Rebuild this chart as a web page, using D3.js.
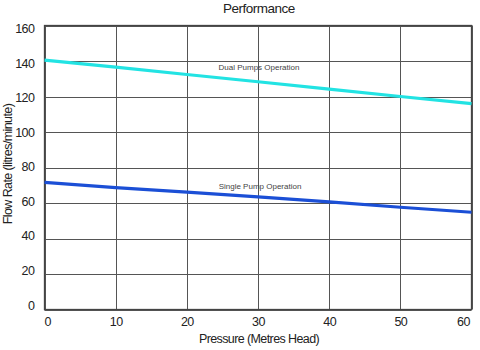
<!DOCTYPE html>
<html>
<head>
<meta charset="utf-8">
<script src="https://cdn.jsdelivr.net/npm/d3@7/dist/d3.min.js"></script>
<style>
  html, body { margin: 0; padding: 0; background: #fff; }
  svg { display: block; font-family: "Liberation Sans", Arial, Helvetica, sans-serif; }
</style>
</head>
<body>
<svg id="chart" width="480" height="350"></svg>
<script>
// Pump performance curves: flow rate against pressure head
const pressure = [0, 10, 20, 30, 40, 50, 60];
const dualFlow = [140.5, 136.6, 132.4, 128.3, 124.2, 120.0, 116.0];
const singleFlow = [71.6, 68.7, 66.1, 63.4, 60.6, 57.6, 54.8];
const xTicks = [0, 10, 20, 30, 40, 50, 60];
const yTicks = [0, 20, 40, 60, 80, 100, 120, 140, 160];
const seriesNames = ["Dual Pumps Operation", "Single Pump Operation"];

const svg = d3.select("#chart");
const m = { left: 44.5, right: 471.5, top: 25.5, bottom: 309.5 };

const x = d3.scaleLinear().domain([0, 60]).range([m.left, m.right]);
const y = d3.scaleLinear().domain([0, 160]).range([m.bottom, m.top]);
// y tick labels sit slightly inside the frame at both ends
const yLabel = d3.scaleLinear().domain([0, 160]).range([m.bottom - 4.5, m.top + 3]);

// Grid lines
const grid = svg.append("g").attr("stroke", "#555").attr("stroke-width", 1);
grid.selectAll(".gx").data(xTicks).join("line")
  .attr("x1", d => Math.round(x(d)) + 0.5).attr("x2", d => Math.round(x(d)) + 0.5)
  .attr("y1", m.top).attr("y2", m.bottom);
grid.selectAll(".gy").data(yTicks).join("line")
  .attr("y1", d => Math.round(y(d)) + 0.5).attr("y2", d => Math.round(y(d)) + 0.5)
  .attr("x1", m.left).attr("x2", m.right);

// Plot frame
svg.append("rect")
  .attr("x", m.left).attr("y", m.top)
  .attr("width", m.right - m.left).attr("height", m.bottom - m.top)
  .attr("fill", "none").attr("stroke", "#444").attr("stroke-width", 1.3);

// Axis tick labels
const tickFont = { size: "12.5px", color: "#222" };
svg.append("g").selectAll("text").data(yTicks).join("text")
  .attr("x", 34.5).attr("y", d => yLabel(d) + 4.5)
  .attr("text-anchor", "end")
  .attr("font-size", tickFont.size).attr("fill", tickFont.color)
  .attr("letter-spacing", "-0.5px")
  .text(d => d);

svg.append("g").selectAll("text").data(xTicks).join("text")
  .attr("x", (d, i) => i === 0 ? x(d) : i === xTicks.length - 1 ? x(d) - 1.5 : x(d) + 0.5)
  .attr("y", 326)
  .attr("text-anchor", (d, i) => i === 0 ? "start" : i === xTicks.length - 1 ? "end" : "middle")
  .attr("font-size", tickFont.size).attr("fill", tickFont.color)
  .attr("letter-spacing", "-0.5px")
  .text(d => d);

// Curves
const line = d3.line().x(d => x(d[0])).y(d => y(d[1]));
const series = [
  { name: seriesNames[0], values: dualFlow, color: "#22e3e3" },
  { name: seriesNames[1], values: singleFlow, color: "#1b4fd6" }
];
svg.append("g").selectAll("path").data(series).join("path")
  .attr("d", s => line(pressure.map((p, i) => [p, s.values[i]])))
  .attr("fill", "none")
  .attr("stroke", s => s.color)
  .attr("stroke-width", 3.2);

// Series labels
svg.append("text").attr("x", 259).attr("y", 69.5).attr("text-anchor", "middle")
  .attr("font-size", "8px").attr("fill", "#444").text(seriesNames[0]);
svg.append("text").attr("x", 260).attr("y", 189).attr("text-anchor", "middle")
  .attr("font-size", "8px").attr("fill", "#444").text(seriesNames[1]);

// Titles
svg.append("text").attr("x", 259).attr("y", 12.5).attr("text-anchor", "middle")
  .attr("font-size", "13.5px").attr("fill", "#222").attr("letter-spacing", "-0.5px")
  .text("Performance");
svg.append("text").attr("x", 259).attr("y", 343).attr("text-anchor", "middle")
  .attr("font-size", "12.5px").attr("fill", "#222").attr("letter-spacing", "-0.6px")
  .text("Pressure (Metres Head)");
svg.append("text")
  .attr("transform", "translate(12,164) rotate(-90)")
  .attr("text-anchor", "middle")
  .attr("font-size", "12.5px").attr("fill", "#222").attr("letter-spacing", "-0.6px")
  .text("Flow Rate (litres/minute)");
</script>
</body>
</html>
